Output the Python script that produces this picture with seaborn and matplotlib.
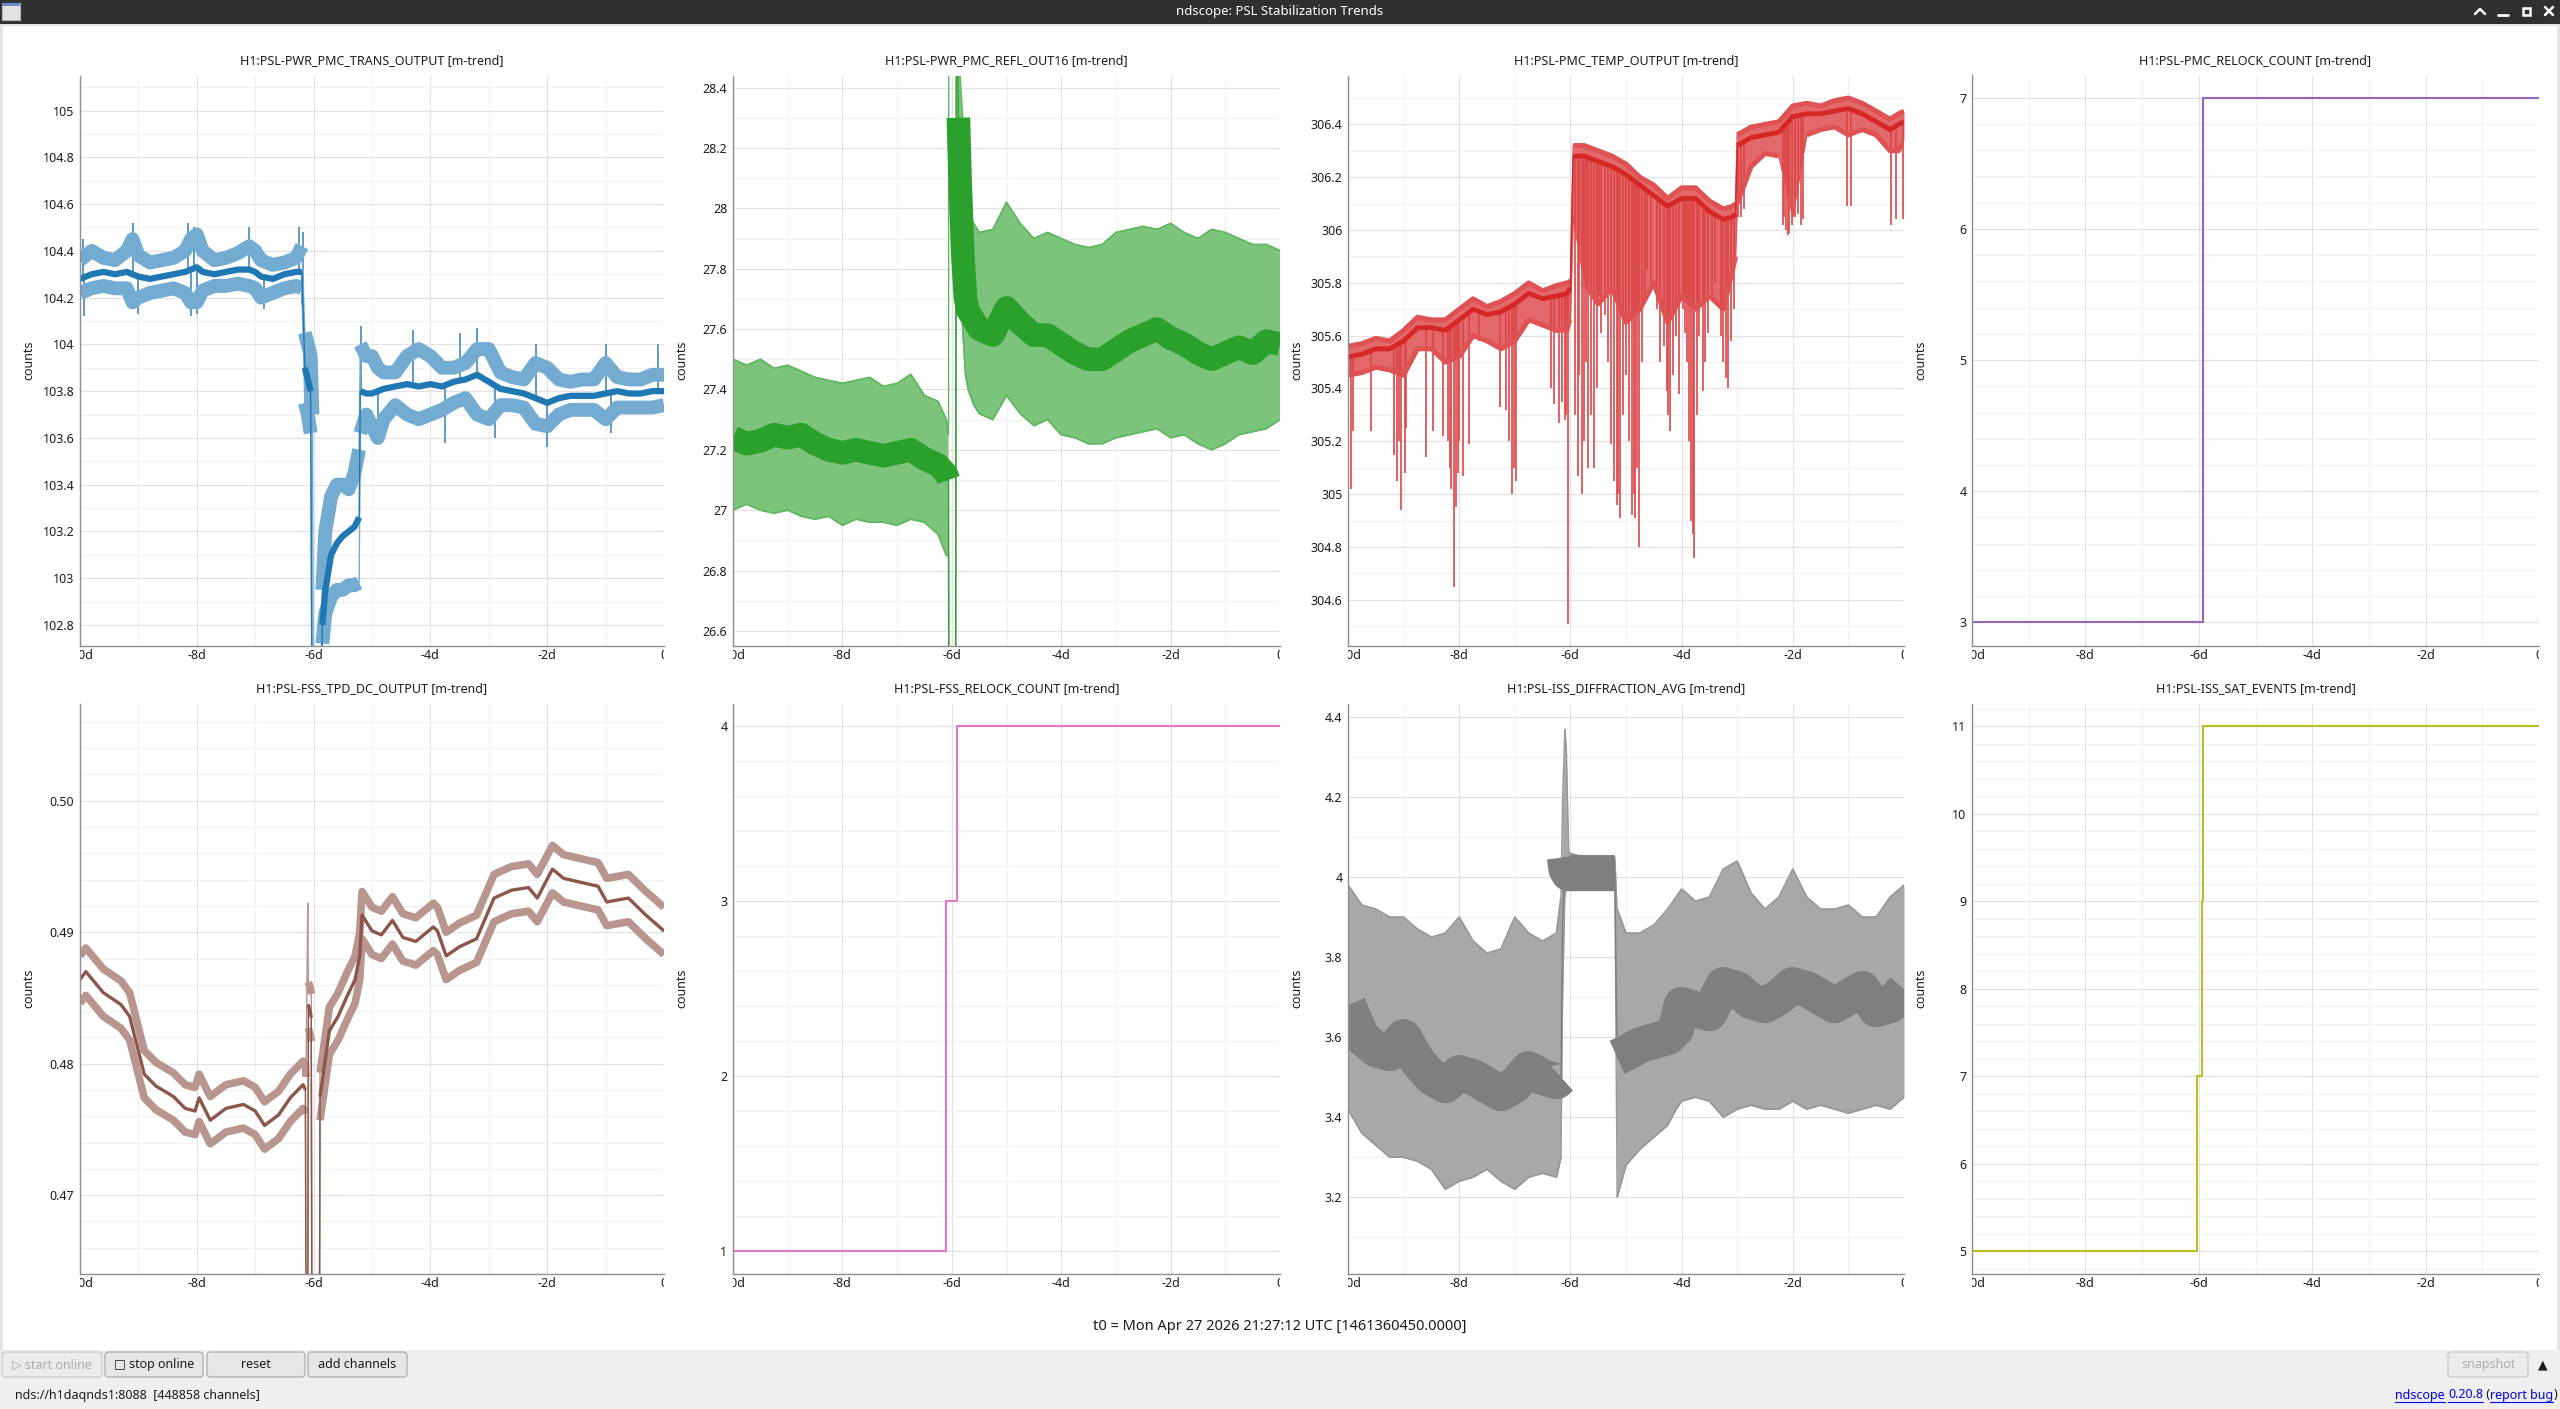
import numpy as np
import matplotlib
matplotlib.use("Agg")
import matplotlib.pyplot as plt
import matplotlib.colors as mcolors
import seaborn as sns
from matplotlib.patches import Rectangle, FancyBboxPatch
from matplotlib.transforms import Bbox, TransformedBbox
from matplotlib.ticker import FixedLocator, MultipleLocator

# ---------------- data (time in days relative to t0) ----------------
x_ticks = [-10, -8, -6, -4, -2, 0]
x_tick_labels = ['-10d', '-8d', '-6d', '-4d', '-2d', '0']

# H1:PSL-PWR_PMC_TRANS_OUTPUT
t1 = [-10.0, -9.8, -9.6, -9.4, -9.2, -9.1, -9.0, -8.8, -8.6, -8.4,
      -8.2, -8.1, -8.0, -7.9, -7.7, -7.5, -7.3, -7.1, -7.0, -6.9,
      -6.7, -6.5, -6.3, -6.2, -6.15, -6.1, -6.05, -6.02, -6.0, -5.95,
      -5.9, -5.85, -5.8, -5.7, -5.6, -5.5, -5.4, -5.3, -5.22, -5.2,
      -5.1, -5.0, -4.9, -4.8, -4.6, -4.4, -4.2, -4.0, -3.8, -3.6,
      -3.4, -3.2, -3.0, -2.8, -2.6, -2.4, -2.2, -2.0, -1.8, -1.6,
      -1.4, -1.2, -1.0, -0.8, -0.6, -0.4, -0.2, 0.0]
mean1 = [104.28, 104.30, 104.31, 104.30, 104.31, 104.30, 104.29, 104.28, 104.29, 104.30,
         104.31, 104.32, 104.33, 104.31, 104.30, 104.31, 104.32, 104.32, 104.31, 104.29,
         104.28, 104.30, 104.31, 104.31, 103.90, 103.85, 103.80, 102.00, 102.00, 102.00,
         102.00, 102.80, 102.95, 103.10, 103.15, 103.18, 103.20, 103.22, 103.26, 103.80,
         103.79, 103.79, 103.80, 103.81, 103.82, 103.83, 103.82, 103.83, 103.82, 103.84,
         103.85, 103.87, 103.84, 103.81, 103.80, 103.79, 103.77, 103.75, 103.77, 103.78,
         103.78, 103.78, 103.79, 103.80, 103.79, 103.79, 103.80, 103.80]
hi1 = [104.36, 104.40, 104.37, 104.36, 104.40, 104.45, 104.38, 104.35, 104.36, 104.37,
       104.40, 104.45, 104.47, 104.40, 104.36, 104.37, 104.39, 104.42, 104.40, 104.36,
       104.34, 104.35, 104.37, 104.42, 104.05, 104.00, 103.95, 103.70, 102.00, 102.00,
       102.00, 102.95, 103.20, 103.35, 103.40, 103.40, 103.38, 103.45, 103.55, 104.00,
       103.95, 103.95, 103.90, 103.88, 103.88, 103.95, 103.98, 103.95, 103.90, 103.90,
       103.92, 103.98, 103.98, 103.88, 103.86, 103.85, 103.92, 103.90, 103.85, 103.84,
       103.85, 103.85, 103.92, 103.86, 103.85, 103.85, 103.87, 103.87]
lo1 = [104.22, 104.24, 104.25, 104.24, 104.24, 104.18, 104.20, 104.22, 104.23, 104.24,
       104.22, 104.18, 104.18, 104.23, 104.25, 104.25, 104.26, 104.25, 104.24, 104.20,
       104.22, 104.24, 104.25, 104.24, 103.75, 103.70, 103.62, 102.00, 102.00, 102.00,
       102.00, 102.72, 102.85, 102.92, 102.95, 102.95, 102.97, 102.97, 102.98, 103.62,
       103.70, 103.65, 103.60, 103.68, 103.74, 103.70, 103.68, 103.70, 103.72, 103.75,
       103.77, 103.70, 103.68, 103.74, 103.74, 103.73, 103.66, 103.65, 103.70, 103.72,
       103.72, 103.72, 103.68, 103.73, 103.73, 103.73, 103.73, 103.74]
spike1_t = [-9.95, -9.1, -8.15, -8.05, -7.1, -6.25, -6.18, -9.93, -9.0, -8.1, -8.0, -6.85, -6.2,
            -5.18, -4.3, -3.5, -3.2, -2.2, -1.0, -0.1, -4.9, -3.75, -2.9, -2.0, -0.9]
spike1_v = [104.45, 104.52, 104.52, 104.50, 104.50, 104.50, 104.48, 104.12, 104.13, 104.12, 104.13,
            104.15, 104.17, 104.08, 104.06, 104.05, 104.07, 104.00, 104.00, 104.00, 103.57, 103.58,
            103.60, 103.56, 103.62]
yticks1 = [102.8, 103.0, 103.2, 103.4, 103.6, 103.8, 104.0, 104.2, 104.4, 104.6, 104.8, 105.0]
ylabels1 = ['102.8', '103', '103.2', '103.4', '103.6', '103.8', '104', '104.2', '104.4', '104.6', '104.8', '105']

# H1:PSL-PWR_PMC_REFL_OUT16
t2 = [-10.0, -9.75, -9.5, -9.25, -9.0, -8.75, -8.5, -8.25, -8.0, -7.75, -7.5, -7.25, -7.0, -6.75, -6.5, -6.25,
      -6.1, -6.06, -6.05, -5.93, -5.92, -5.88, -5.85, -5.8, -5.75, -5.7, -5.6, -5.5,
      -5.25, -5.0, -4.75, -4.5, -4.25, -4.0, -3.75, -3.5, -3.25, -3.0, -2.75, -2.5, -2.25, -2.0,
      -1.75, -1.5, -1.25, -1.0, -0.75, -0.5, -0.25, 0.0]
mean2 = [27.24, 27.22, 27.23, 27.25, 27.24, 27.25, 27.22, 27.20, 27.19, 27.20, 27.19, 27.18, 27.19, 27.20, 27.17, 27.15,
         27.12, 27.10, 26.00, 26.00, 29.00, 28.30, 28.10, 27.85, 27.70, 27.66, 27.63, 27.60,
         27.58, 27.67, 27.62, 27.58, 27.58, 27.55, 27.52, 27.50, 27.50, 27.53, 27.56, 27.58, 27.60, 27.57,
         27.55, 27.52, 27.50, 27.52, 27.54, 27.52, 27.56, 27.55]
hi2 = [27.50, 27.48, 27.50, 27.47, 27.48, 27.46, 27.44, 27.43, 27.42, 27.43, 27.44, 27.41, 27.42, 27.45, 27.38, 27.36,
       27.30, 27.25, 30.00, 30.00, 29.00, 28.60, 28.45, 28.30, 28.05, 27.98, 27.95, 27.92,
       27.93, 28.02, 27.95, 27.90, 27.92, 27.90, 27.88, 27.87, 27.88, 27.92, 27.93, 27.94, 27.93, 27.95,
       27.92, 27.90, 27.93, 27.92, 27.90, 27.88, 27.88, 27.86]
lo2 = [27.00, 27.02, 27.00, 26.99, 27.00, 26.98, 26.97, 26.98, 26.95, 26.97, 26.96, 26.96, 26.95, 26.97, 26.96, 26.92,
       26.85, 26.85, 26.00, 26.00, 28.20, 27.95, 27.85, 27.60, 27.45, 27.40, 27.35, 27.32,
       27.30, 27.38, 27.32, 27.28, 27.30, 27.25, 27.24, 27.22, 27.22, 27.24, 27.25, 27.26, 27.27, 27.24,
       27.25, 27.22, 27.20, 27.22, 27.25, 27.26, 27.27, 27.30]
yticks2 = [26.6, 26.8, 27.0, 27.2, 27.4, 27.6, 27.8, 28.0, 28.2, 28.4]
ylabels2 = ['26.6', '26.8', '27', '27.2', '27.4', '27.6', '27.8', '28', '28.2', '28.4']

# H1:PSL-PMC_TEMP_OUTPUT
t3 = [-10.0, -9.75, -9.5, -9.25, -9.0, -8.75, -8.5, -8.25, -8.0, -7.75, -7.5, -7.25, -7.0, -6.75, -6.5, -6.25,
      -6.06, -6.03, -6.0, -5.95,
      -5.75, -5.5, -5.25, -5.0, -4.75, -4.5, -4.25, -4.0, -3.75, -3.5, -3.25,
      -3.08, -3.03, -3.0,
      -2.75, -2.5, -2.25, -2.0, -1.75, -1.5, -1.25, -1.0, -0.75, -0.5, -0.25, -0.1, 0.0]
mean3 = [305.52, 305.53, 305.55, 305.55, 305.58, 305.63, 305.63, 305.62, 305.66, 305.70, 305.68, 305.69, 305.72, 305.76, 305.74, 305.75,
         305.76, 305.77, 305.78, 306.28,
         306.28, 306.26, 306.24, 306.21, 306.17, 306.13, 306.09, 306.12, 306.12, 306.07, 306.04,
         306.05, 306.06, 306.32,
         306.35, 306.36, 306.37, 306.43, 306.44, 306.44, 306.45, 306.46, 306.44, 306.41, 306.38, 306.40, 306.41]
hi3 = [305.56, 305.57, 305.59, 305.58, 305.62, 305.67, 305.66, 305.66, 305.70, 305.74, 305.71, 305.73, 305.76, 305.80, 305.77, 305.79,
       305.80, 305.80, 305.81, 306.32,
       306.32, 306.30, 306.28, 306.25, 306.20, 306.17, 306.12, 306.16, 306.16, 306.11, 306.08,
       306.09, 306.10, 306.36,
       306.39, 306.40, 306.41, 306.47, 306.48, 306.47, 306.49, 306.50, 306.48, 306.45, 306.42, 306.44, 306.45]
lo3 = [305.45, 305.46, 305.48, 305.47, 305.45, 305.55, 305.55, 305.50, 305.52, 305.60, 305.58, 305.55, 305.58, 305.66, 305.64, 305.62,
       305.62, 305.65, 305.66, 306.05,
       305.80, 305.72, 305.78, 305.65, 305.70, 305.80, 305.65, 305.75, 305.70, 305.75, 305.70,
       305.85, 305.90, 306.10,
       306.24, 306.29, 306.28, 306.05, 306.36, 306.38, 306.39, 306.36, 306.38, 306.36, 306.30, 306.30, 306.34]
spike3_t = [-9.94, -9.91, -9.58, -9.18, -9.12, -9.08, -9.05, -8.98, -8.95, -8.60, -8.48, -8.30, -8.20, -8.17,
            -8.14, -8.09, -8.06, -8.03, -8.00, -7.94, -7.83, -7.65, -7.27, -7.16, -7.10, -7.05, -7.02, -6.97,
            -6.35, -6.29, -6.20, -6.15, -6.10, -6.08, -6.05, -5.92, -5.87, -5.84, -5.80, -5.76, -5.72, -5.68,
            -5.63, -5.58, -5.52, -5.49, -5.45, -5.38, -5.33, -5.27, -5.22, -5.17, -5.14, -5.10, -5.05, -5.00,
            -4.95, -4.89, -4.86, -4.83, -4.80, -4.76, -4.72, -4.66, -4.62, -4.55, -4.45, -4.38, -4.32, -4.27,
            -4.24, -4.20, -4.16, -4.10, -4.05, -3.98, -3.94, -3.90, -3.86, -3.83, -3.80, -3.77, -3.72, -3.68,
            -3.62, -3.58, -3.52, -3.46, -3.40, -3.30, -3.25, -3.20, -3.16, -3.12, -3.06, -2.98, -2.93, -2.88,
            -2.18, -2.15, -2.12, -2.09, -2.06, -2.02, -1.96, -1.90, -1.86, -1.82, -1.02, -0.95, -0.23, -0.14,
            -0.02]
spike3_v = [305.02, 305.24, 305.24, 305.15, 305.05, 305.20, 304.94, 305.08, 305.25, 305.14, 305.24, 305.22, 305.20, 305.10,
            305.02, 304.65, 304.95, 305.08, 305.20, 305.07, 305.19, 305.58, 305.33, 305.32, 305.20, 305.00, 305.10, 305.05,
            305.40, 305.34, 305.27, 305.35, 305.28, 305.30, 304.51, 305.30, 305.07, 305.45, 305.00, 305.20, 305.50, 305.10,
            305.30, 305.10, 305.40, 305.75, 305.61, 305.68, 305.50, 305.19, 305.05, 304.96, 305.00, 304.91, 305.30, 305.45,
            305.20, 304.92, 305.00, 304.91, 305.10, 304.80, 305.50, 305.73, 305.85, 305.80, 305.70, 305.50, 305.56, 305.39,
            305.30, 305.24, 305.45, 305.60, 305.38, 305.70, 305.61, 305.50, 305.20, 304.90, 304.85, 304.76, 305.30, 305.60,
            305.39, 305.50, 305.61, 305.75, 305.80, 305.60, 305.50, 305.44, 305.40, 305.58, 305.70, 306.05, 306.05, 306.08,
            306.02, 306.05, 306.00, 305.98, 305.99, 306.02, 306.05, 306.06, 306.02, 306.04, 306.09, 306.09, 306.02, 306.04,
            306.04]
yticks3 = [304.6, 304.8, 305.0, 305.2, 305.4, 305.6, 305.8, 306.0, 306.2, 306.4]
ylabels3 = ['304.6', '304.8', '305', '305.2', '305.4', '305.6', '305.8', '306', '306.2', '306.4']

# H1:PSL-PMC_RELOCK_COUNT
t4 = [-10.0, -5.93, 0.0]
v4 = [3, 7, 7]
yticks4 = [3, 4, 5, 6, 7]
ylabels4 = ['3', '4', '5', '6', '7']

# H1:PSL-FSS_TPD_DC_OUTPUT
t5 = [-10.0, -9.9, -9.6, -9.3, -9.15, -8.9, -8.7, -8.4, -8.2, -8.03,
      -7.96, -7.77, -7.5, -7.2, -7.0, -6.84, -6.6, -6.4, -6.18, -6.14,
      -6.13, -6.1, -6.09, -6.06, -6.04, -6.03, -5.9, -5.89, -5.73, -5.58,
      -5.43, -5.29, -5.21, -5.17, -5.0, -4.84, -4.65, -4.47, -4.25, -3.95,
      -3.88, -3.73, -3.5, -3.21, -2.91, -2.61, -2.32, -2.17, -1.91, -1.72,
      -1.43, -1.13, -0.98, -0.61, -0.31, 0.0]
mean5 = [0.4864, 0.4870, 0.4854, 0.4845, 0.4836, 0.4792, 0.4783, 0.4775, 0.4766, 0.4764,
         0.4774, 0.4757, 0.4766, 0.4769, 0.4764, 0.4753, 0.4761, 0.4774, 0.4784, 0.4780,
         0.4600, 0.4600, 0.4845, 0.4840, 0.4835, 0.4600, 0.4600, 0.4775, 0.4825, 0.4836,
         0.4851, 0.4864, 0.4882, 0.4913, 0.4901, 0.4898, 0.4909, 0.4896, 0.4893, 0.4904,
         0.4901, 0.4882, 0.4889, 0.4895, 0.4926, 0.4932, 0.4934, 0.4926, 0.4948, 0.4941,
         0.4938, 0.4935, 0.4923, 0.4926, 0.4913, 0.4901]
hi5 = [0.4882, 0.4888, 0.4872, 0.4863, 0.4854, 0.4810, 0.4801, 0.4793, 0.4784, 0.4782,
       0.4792, 0.4775, 0.4784, 0.4787, 0.4782, 0.4771, 0.4779, 0.4792, 0.4802, 0.4798,
       0.4790, 0.4922, 0.4862, 0.4858, 0.4853, 0.4600, 0.4600, 0.4793, 0.4843, 0.4854,
       0.4869, 0.4882, 0.4900, 0.4931, 0.4919, 0.4916, 0.4927, 0.4914, 0.4911, 0.4922,
       0.4919, 0.4900, 0.4907, 0.4913, 0.4944, 0.4950, 0.4952, 0.4944, 0.4966, 0.4959,
       0.4956, 0.4953, 0.4941, 0.4944, 0.4931, 0.4919]
lo5 = [0.4846, 0.4852, 0.4836, 0.4827, 0.4818, 0.4774, 0.4765, 0.4757, 0.4748, 0.4746,
       0.4756, 0.4739, 0.4748, 0.4751, 0.4746, 0.4735, 0.4743, 0.4756, 0.4766, 0.4762,
       0.4600, 0.4600, 0.4827, 0.4822, 0.4817, 0.4600, 0.4600, 0.4757, 0.4807, 0.4818,
       0.4833, 0.4846, 0.4864, 0.4895, 0.4883, 0.4880, 0.4891, 0.4878, 0.4875, 0.4886,
       0.4883, 0.4864, 0.4871, 0.4877, 0.4908, 0.4914, 0.4916, 0.4908, 0.4930, 0.4923,
       0.4920, 0.4917, 0.4905, 0.4908, 0.4895, 0.4883]
yticks5 = [0.47, 0.48, 0.49, 0.50]
ylabels5 = ['0.47', '0.48', '0.49', '0.50']

# H1:PSL-FSS_RELOCK_COUNT
t6 = [-10.0, -6.11, -5.91, 0.0]
v6 = [1, 3, 4, 4]
yticks6 = [1, 2, 3, 4]
ylabels6 = ['1', '2', '3', '4']

# H1:PSL-ISS_DIFFRACTION_AVG
t7 = [-10.0, -9.75, -9.5, -9.25, -9.0, -8.75, -8.5, -8.25, -8.0, -7.75, -7.5, -7.25, -7.0, -6.75, -6.5, -6.25,
      -6.17, -6.14, -6.1, -6.07, -6.03, -5.75, -5.5, -5.2, -5.16,
      -5.0, -4.75, -4.5, -4.25, -4.1, -4.0, -3.75, -3.5, -3.25, -3.0, -2.75, -2.5, -2.25, -2.0,
      -1.75, -1.5, -1.25, -1.0, -0.75, -0.5, -0.25, 0.0]
mean7 = [3.68, 3.60, 3.57, 3.56, 3.60, 3.54, 3.50, 3.48, 3.51, 3.50, 3.48, 3.46, 3.48, 3.52, 3.50, 3.49,
         3.50, 3.90, 4.05, 4.02, 4.01, 4.01, 4.01, 4.01, 3.55,
         3.56, 3.58, 3.59, 3.60, 3.62, 3.68, 3.67, 3.66, 3.73, 3.72, 3.69, 3.68, 3.70, 3.73,
         3.72, 3.70, 3.68, 3.70, 3.72, 3.67, 3.68, 3.72]
hi7 = [3.98, 3.93, 3.92, 3.90, 3.90, 3.87, 3.85, 3.86, 3.90, 3.84, 3.81, 3.82, 3.90, 3.86, 3.84, 3.86,
       3.95, 4.20, 4.37, 4.30, 4.06, 4.05, 4.05, 4.05, 3.92,
       3.86, 3.86, 3.88, 3.92, 3.95, 3.97, 3.94, 3.95, 4.02, 4.04, 3.96, 3.92, 3.95, 4.02,
       3.95, 3.92, 3.92, 3.93, 3.90, 3.90, 3.95, 3.98]
lo7 = [3.42, 3.36, 3.33, 3.30, 3.30, 3.29, 3.27, 3.22, 3.24, 3.25, 3.27, 3.24, 3.22, 3.25, 3.26, 3.25,
       3.30, 3.70, 3.95, 3.98, 3.985, 3.985, 3.985, 3.985, 3.20,
       3.28, 3.32, 3.35, 3.38, 3.42, 3.44, 3.45, 3.44, 3.40, 3.42, 3.43, 3.42, 3.42, 3.44,
       3.42, 3.43, 3.42, 3.41, 3.42, 3.43, 3.42, 3.45]
yticks7 = [3.2, 3.4, 3.6, 3.8, 4.0, 4.2, 4.4]
ylabels7 = ['3.2', '3.4', '3.6', '3.8', '4', '4.2', '4.4']

# H1:PSL-ISS_SAT_EVENTS
t8 = [-10.0, -6.04, -5.95, -5.92, 0.0]
v8 = [5, 7, 9, 11, 11]
yticks8 = [5, 6, 7, 8, 9, 10, 11]
ylabels8 = ['5', '6', '7', '8', '9', '10', '11']

# ---------------- figure ----------------
sns.set_style("white")
plt.rcParams['font.family'] = ['Noto Sans', 'DejaVu Sans']
TXT = '#1c1c1c'

W, H = 2560, 1409
fig = plt.figure(figsize=(W / 100, H / 100), dpi=100)
fig.patch.set_facecolor('white')

# full-figure pixel canvas for the window chrome
bg = fig.add_axes([0, 0, 1, 1], zorder=0)
bg.set_xlim(0, W)
bg.set_ylim(H, 0)
bg.axis('off')

bg.add_patch(Rectangle((0, 0), W, 24, fc='#303030', ec='none'))
bg.add_patch(Rectangle((0, 24), W, 2, fc='#e4e4e4', ec='none'))
bg.add_patch(Rectangle((0, 24), 3, 1326, fc='#e4e4e4', ec='none'))
bg.add_patch(Rectangle((W - 3, 24), 3, 1326, fc='#e4e4e4', ec='none'))
bg.add_patch(Rectangle((0, 1350), W, H - 1350, fc='#efefef', ec='none'))
bg.text(W / 2, 11.5, 'ndscope: PSL Stabilization Trends', color='white', fontsize=9.5,
        fontweight='bold', ha='center', va='center')
bg.add_patch(Rectangle((2, 3), 18, 17, fc='#e2e2e2', ec='#b5b5b5', lw=0.8))
bg.add_patch(Rectangle((2, 3), 18, 2.5, fc='#6b8cc4', ec='none'))
# window buttons: shade, minimise, maximise, close
bg.plot([2475, 2480, 2485], [14, 9, 14], color='white', lw=1.8)
bg.plot([2498, 2508], [15, 15], color='white', lw=2)
bg.add_patch(Rectangle((2522.5, 7.5), 7, 7, fc='none', ec='white', lw=1.8))
bg.plot([2545, 2553], [7, 15], color='white', lw=1.8)
bg.plot([2545, 2553], [15, 7], color='white', lw=1.8)


def tint(color, a):
    c = np.array(mcolors.to_rgb(color))
    return tuple(c * a + (1 - a))


def add_panel(l, t, r, b):
    return fig.add_axes([l / W, 1 - b / H, (r - l) / W, (b - t) / H], zorder=1)


def style_panel(ax, box, title, ylim, yticks, ylabels, yminor):
    l, t, r, b = box
    ax.set_xlim(-10, 0)
    ax.set_ylim(*ylim)
    ax.set_xticks(x_ticks, labels=x_tick_labels)
    ax.xaxis.set_minor_locator(MultipleLocator(1))
    ax.yaxis.set_major_locator(FixedLocator(yticks))
    ax.set_yticklabels(ylabels)
    ax.yaxis.set_minor_locator(MultipleLocator(yminor))
    ax.grid(which='major', color='#e2e2e2', lw=0.9)
    ax.grid(which='minor', color='#f2f2f2', lw=0.9)
    ax.set_axisbelow(True)
    ax.tick_params(which='both', length=0)
    ax.tick_params(axis='y', pad=4, labelsize=9, labelcolor=TXT)
    ax.tick_params(axis='x', pad=2.5, labelsize=9, labelcolor=TXT)
    for s in ('top', 'right'):
        ax.spines[s].set_visible(False)
    for s in ('left', 'bottom'):
        ax.spines[s].set_color('#8f8f8f')
        ax.spines[s].set_linewidth(1)
    ax.set_title(title, fontsize=9, pad=8, color=TXT)
    ax.set_xlabel('')
    ax.set_ylabel('counts', fontsize=9, color=TXT, va='center')
    ax.yaxis.set_label_coords(-51 / (r - l), 0.5)
    # the end labels are cut by the plot edges, as in the viewer
    clip = TransformedBbox(Bbox([[l / W, 0], [r / W, 1]]), fig.transFigure)
    for lab in ax.get_xticklabels():
        lab.set_clip_box(clip)
        lab.set_clip_on(True)


def segments(y, ylim, jump):
    ok = (y > ylim[0]) & (y < ylim[1])
    brk = np.r_[False, np.abs(np.diff(y)) > jump]
    return ok, np.cumsum(~ok | brk)


def draw_trend(ax, t, mean, lo, hi, color, ylim, st, spikes=None):
    t, mean, lo, hi = map(np.asarray, (t, mean, lo, hi))
    band_c = tint(color, st['tint'])
    if st['fill']:
        ax.fill_between(t, lo, hi, where=(hi - lo) < 3, color=tint(color, st['fill']), lw=0)
    if spikes is not None:
        st_t, st_v = spikes
        ax.vlines(st_t, np.interp(st_t, t, mean), st_v, color=tint(color, 0.85), lw=1.2)
    for y, lw, c in ((hi, st['band'], band_c), (lo, st['band'], band_c), (mean, st['mean'], color)):
        # thin trace keeps the steps and drops that leave the view
        sns.lineplot(x=t, y=y, ax=ax, color=c, lw=1.0, estimator=None, sort=False, legend=False)
        ok, seg = segments(y, ylim, st['jump'])
        sns.lineplot(x=t[ok], y=y[ok], units=seg[ok], ax=ax, color=c, lw=lw,
                     estimator=None, sort=False, legend=False,
                     solid_joinstyle='round', solid_capstyle='butt')


def draw_step(ax, t, v, color):
    sns.lineplot(x=t, y=v, ax=ax, color=color, lw=1.5, drawstyle='steps-post',
                 estimator=None, sort=False, legend=False)


rows = [(75.5, 646), (703.5, 1274)]
cols = [(80, 664), (733, 1280), (1348, 1904), (1972, 2539)]
boxes = [(c[0], r[0], c[1], r[1]) for r in rows for c in cols]

# panel 1
ax = add_panel(*boxes[0])
lim = (102.71, 105.15)
draw_trend(ax, t1, mean1, lo1, hi1, '#1f77b4', lim,
           dict(fill=0, tint=0.62, band=10, mean=4.5, jump=0.3), spikes=(spike1_t, spike1_v))
style_panel(ax, boxes[0], 'H1:PSL-PWR_PMC_TRANS_OUTPUT [m-trend]', lim, yticks1, ylabels1, 0.1)

# panel 2
ax = add_panel(*boxes[1])
lim = (26.55, 28.44)
draw_trend(ax, t2, mean2, lo2, hi2, '#2ca02c', lim,
           dict(fill=0.62, tint=0.75, band=1.2, mean=17, jump=0.3))
style_panel(ax, boxes[1], 'H1:PSL-PWR_PMC_REFL_OUT16 [m-trend]', lim, yticks2, ylabels2, 0.1)

# panel 3
ax = add_panel(*boxes[2])
lim = (304.425, 306.585)
draw_trend(ax, t3, mean3, lo3, hi3, '#d62728', lim,
           dict(fill=0.7, tint=0.8, band=3.5, mean=3.5, jump=0.2), spikes=(spike3_t, spike3_v))
style_panel(ax, boxes[2], 'H1:PSL-PMC_TEMP_OUTPUT [m-trend]', lim, yticks3, ylabels3, 0.1)

# panel 4
ax = add_panel(*boxes[3])
lim = (2.82, 7.17)
draw_step(ax, t4, v4, '#9467bd')
style_panel(ax, boxes[3], 'H1:PSL-PMC_RELOCK_COUNT [m-trend]', lim, yticks4, ylabels4, 0.2)

# panel 5
ax = add_panel(*boxes[4])
lim = (0.464, 0.5074)
draw_trend(ax, t5, mean5, lo5, hi5, '#8c564b', lim,
           dict(fill=0, tint=0.62, band=5.5, mean=2.4, jump=0.006))
style_panel(ax, boxes[4], 'H1:PSL-FSS_TPD_DC_OUTPUT [m-trend]', lim, yticks5, ylabels5, 0.002)

# panel 6
ax = add_panel(*boxes[5])
lim = (0.87, 4.13)
draw_step(ax, t6, v6, '#e377c2')
style_panel(ax, boxes[5], 'H1:PSL-FSS_RELOCK_COUNT [m-trend]', lim, yticks6, ylabels6, 0.2)

# panel 7
ax = add_panel(*boxes[6])
lim = (3.008, 4.434)
draw_trend(ax, t7, mean7, lo7, hi7, '#7f7f7f', lim,
           dict(fill=0.68, tint=0.8, band=1.2, mean=26, jump=0.1))
style_panel(ax, boxes[6], 'H1:PSL-ISS_DIFFRACTION_AVG [m-trend]', lim, yticks7, ylabels7, 0.1)

# panel 8
ax = add_panel(*boxes[7])
lim = (4.74, 11.26)
draw_step(ax, t8, v8, '#bcbd22')
style_panel(ax, boxes[7], 'H1:PSL-ISS_SAT_EVENTS [m-trend]', lim, yticks8, ylabels8, 0.2)

# ---------------- bottom bar ----------------
bg.text(W / 2, 1326, 't0 = Mon Apr 27 2026 21:27:12 UTC [1461360450.0000]',
        fontsize=10.5, ha='center', va='center', color=TXT)


def button(x0, x1, label, enabled=True):
    bg.add_patch(FancyBboxPatch((x0, 1352), x1 - x0, 25, boxstyle='round,pad=0,rounding_size=3',
                                fc='#e6e6e6' if enabled else '#ebebeb',
                                ec='#a6a6a6' if enabled else '#c6c6c6', lw=0.8))
    bg.text((x0 + x1) / 2, 1364.5, label, ha='center', va='center', fontsize=9,
            color=TXT if enabled else '#adadad')


button(2, 102, '\u25b7 start online', enabled=False)
button(105, 203, '\u25a1 stop online')
button(207, 305, 'reset')
button(308, 407, 'add channels')
button(2448, 2528, 'snapshot', enabled=False)
bg.text(2543, 1365, '\u25b2', fontsize=9, ha='center', va='center', color=TXT)
bg.text(15, 1395, 'nds://h1daqnds1:8088  [448858 channels]', fontsize=9, ha='left', va='center', color=TXT)

renderer = fig.canvas.get_renderer()
x = 2557
for s, link in reversed([('ndscope', True), (' ', False), ('0.20.8', True), (' (', False),
                         ('report bug', True), (')', False)]):
    txt = bg.text(x, 1395, s, ha='right', va='center', fontsize=9, color='#0000ee' if link else TXT)
    bb = txt.get_window_extent(renderer=renderer)
    if link:
        bg.plot([bb.x0, bb.x1], [1402, 1402], color='#0000ee', lw=0.8)
    x = bb.x0

fig.savefig('out.png', dpi=100, facecolor='white')
